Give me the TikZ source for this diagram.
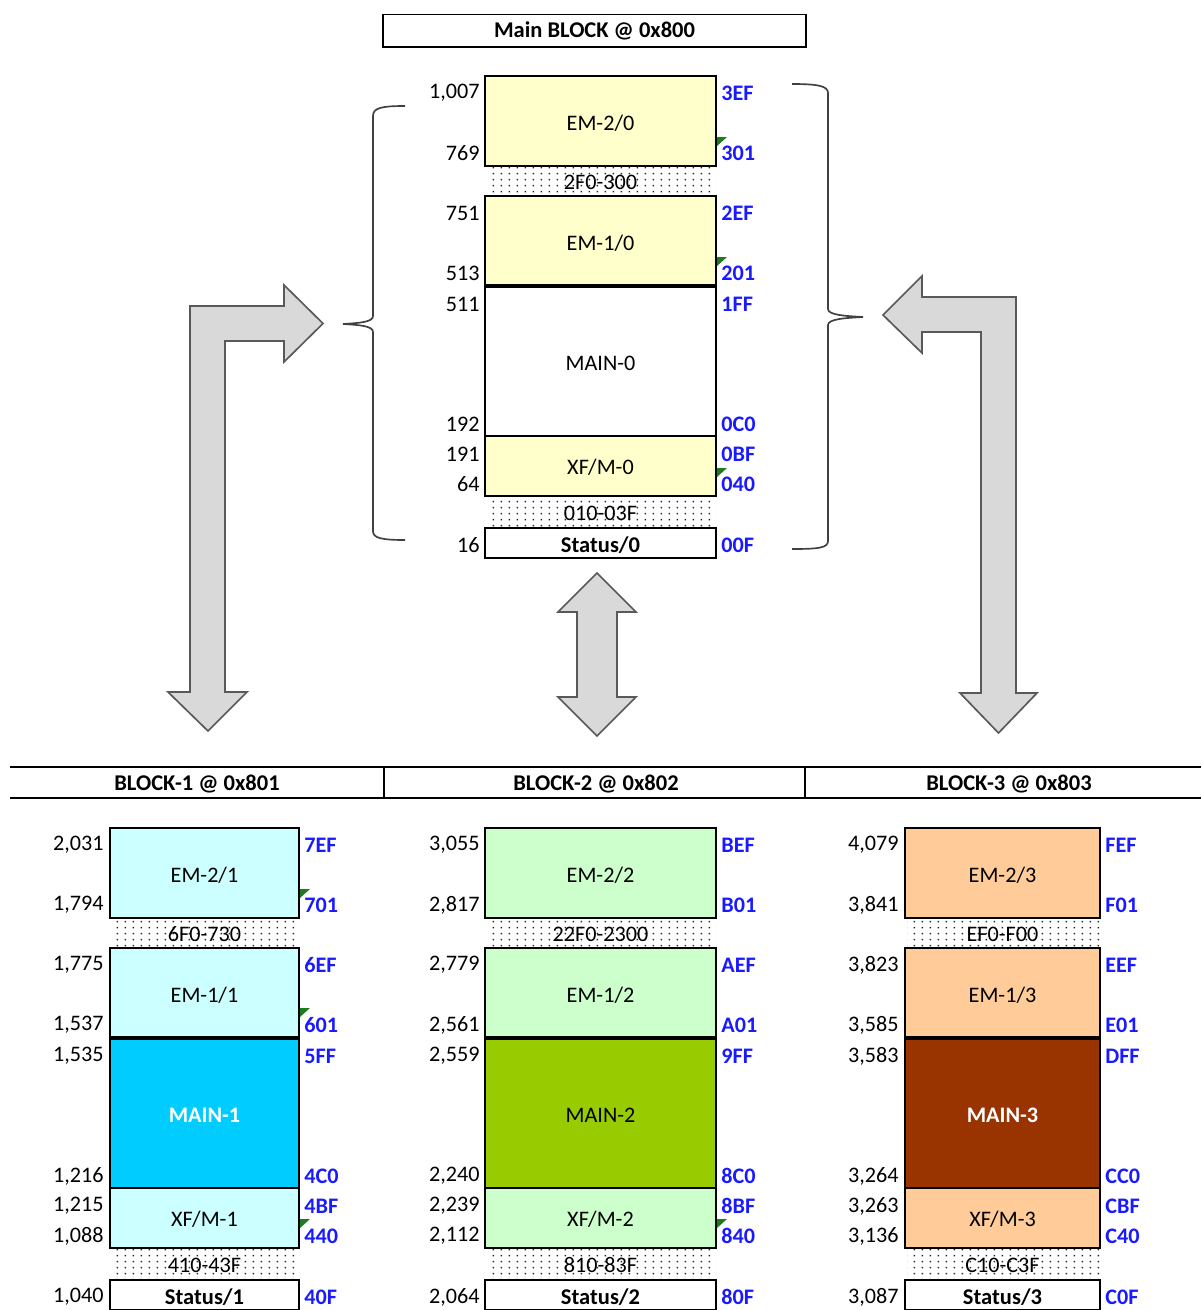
\documentclass[tikz,border=0pt]{standalone}
\usepackage{fontspec}
\setmainfont{Carlito}
\usepackage{tikz}
\usepackage{xcolor}
\usetikzlibrary{patterns}

\definecolor{yelfill}{HTML}{FFFFCC}
\definecolor{cyanlite}{HTML}{CCFFFF}
\definecolor{cyanmain}{HTML}{00CCFF}
\definecolor{greenlite}{HTML}{CCFFCC}
\definecolor{greenmain}{HTML}{99CC00}
\definecolor{orangelite}{HTML}{FFCC99}
\definecolor{brownmain}{HTML}{993300}
\definecolor{hexblue}{HTML}{1A1AFF}
\definecolor{arrowgray}{HTML}{D9D9D9}
\definecolor{arrowline}{HTML}{595959}
\definecolor{flaggreen}{HTML}{1E7B1E}

\pgfdeclarepatternformonly{gapdots}{\pgfpointorigin}{\pgfqpoint{4.6pt}{3.4pt}}{\pgfqpoint{4.6pt}{3.4pt}}
  {\pgfpathrectangle{\pgfqpoint{1pt}{1pt}}{\pgfqpoint{0.95pt}{0.95pt}}\pgfusepath{fill}}

\begin{document}
\begin{tikzpicture}[x=0.6pt,y=-0.6pt,
  every node/.style={font=\fontsize{13.3}{15}\selectfont, inner sep=0pt},
  cell/.style={draw=black, line width=1pt},
  gap/.style={pattern=gapdots, pattern color=black!85},
  num/.style={anchor=east},
  hex/.style={anchor=west, text=hexblue, font=\fontsize{13.3}{15}\selectfont\bfseries},
  bold/.style={font=\fontsize{13.5}{15}\selectfont\bfseries},
  bigarrow/.style={fill=arrowgray, draw=arrowline, line width=1pt, line join=miter},
  brace/.style={draw=black!75, line width=1pt},
  flag/.style={fill=flaggreen}]
  \useasboundingbox (0,0) rectangle (1201,1310);
  \clip (0,0) rectangle (1201,1310);
  \fill[white] (0,0) rectangle (1201,1310);

  \node[draw, line width=1pt, minimum width=253.8pt, minimum height=19.6pt, bold] (maintitle) at (594.5,31) {Main BLOCK @ 0x800};

  \foreach \xl/\xr/\yt/\k/\lite/\mainc/\mtxt/\mfont/\gapa/\gapb in {
      485/716/76/0/yelfill/white/black/\mdseries/2F0-300/010-03F,
      110/299/828/1/cyanlite/cyanmain/white/\bfseries/6F0-730/410-43F,
      485/716/828/2/greenlite/greenmain/black/\mdseries/22F0-2300/810-83F,
      905/1100/828/3/orangelite/brownmain/white/\bfseries/EF0-F00/C10-C3F} {
    \pgfmathsetmacro\xm{(\xl+\xr)/2}
    \fill[gap] (\xl+2,\yt+91) rectangle (\xr,\yt+119);
    \fill[gap] (\xl+2,\yt+421) rectangle (\xr,\yt+451);
    \draw[cell, fill=\lite] (\xl,\yt) rectangle (\xr,\yt+90);
    \draw[cell, fill=\lite] (\xl,\yt+120) rectangle (\xr,\yt+210);
    \draw[cell, fill=\mainc] (\xl,\yt+210) rectangle (\xr,\yt+360);
    \draw[cell, fill=\lite] (\xl,\yt+360) rectangle (\xr,\yt+420);
    \draw[cell, fill=white] (\xl,\yt+452) rectangle (\xr,\yt+482);
    \draw[line width=2pt] (\xl,\yt+210) -- (\xr,\yt+210);
    \node (em2-\k) at (\xm,\yt+47) {EM-2/\k};
    \node (gapa-\k) at (\xm,\yt+106) {\gapa};
    \node (em1-\k) at (\xm,\yt+167) {EM-1/\k};
    \node[text=\mtxt, font=\fontsize{13.3}{15}\selectfont\mfont] (main-\k) at (\xm,\yt+287) {MAIN-\k};
    \node (xfm-\k) at (\xm,\yt+391) {XF/M-\k};
    \node (gapb-\k) at (\xm,\yt+437) {\gapb};
    \node[bold] (status-\k) at (\xm,\yt+469) {Status/\k};
  }

  \foreach \dy/\n/\h in {17/1{,}007/3EF, 77/769/301, 137/751/2EF, 197/513/201, 228/511/1FF,
      348/192/0C0, 378/191/0BF, 408/64/040, 469/16/00F} {
    \node[num] (n0-\dy) at (480,76+\dy) {\n};
    \node[hex] (h0-\dy) at (721,76+\dy) {\h};
  }
  \foreach \dy/\n/\h in {17/2{,}031/7EF, 77/1{,}794/701, 137/1{,}775/6EF, 197/1{,}537/601, 228/1{,}535/5FF,
      348/1{,}216/4C0, 378/1{,}215/4BF, 408/1{,}088/440, 469/1{,}040/40F} {
    \node[num] (n1-\dy) at (104,828+\dy) {\n};
    \node[hex] (h1-\dy) at (304,828+\dy) {\h};
  }
  \foreach \dy/\n/\h in {17/3{,}055/BEF, 77/2{,}817/B01, 137/2{,}779/AEF, 197/2{,}561/A01, 228/2{,}559/9FF,
      348/2{,}240/8C0, 378/2{,}239/8BF, 408/2{,}112/840, 469/2{,}064/80F} {
    \node[num] (n2-\dy) at (480,828+\dy) {\n};
    \node[hex] (h2-\dy) at (721,828+\dy) {\h};
  }
  \foreach \dy/\n/\h in {17/4{,}079/FEF, 77/3{,}841/F01, 137/3{,}823/EEF, 197/3{,}585/E01, 228/3{,}583/DFF,
      348/3{,}264/CC0, 378/3{,}263/CBF, 408/3{,}136/C40, 469/3{,}087/C0F} {
    \node[num] (n3-\dy) at (899,828+\dy) {\n};
    \node[hex] (h3-\dy) at (1105,828+\dy) {\h};
  }

  \foreach \x/\y in {717/137, 717/257, 717/468, 300/889, 300/1008, 300/1219, 717/1219}
    \fill[flag] (\x,\y) -- ++(10,0) -- ++(-10,9) -- cycle;

  \draw[brace] (405,106) .. controls (381,106) and (373,108) .. (373,116) -- (373,316)
     .. controls (373,322) and (360,323) .. (343,324) .. controls (360,325) and (373,326) .. (373,332)
     -- (373,531) .. controls (373,538) and (381,540) .. (405,540);
  \draw[brace] (792,84) .. controls (818,84) and (828,86) .. (828,93) -- (828,309)
     .. controls (828,315) and (845,316) .. (863,317) .. controls (845,318) and (828,319) .. (828,325)
     -- (828,541) .. controls (828,548) and (818,549) .. (792,549);

  \draw[bigarrow] (190,306) -- (284,306) -- (284,285) -- (323,323.5) -- (284,362) -- (284,341)
     -- (225,341) -- (225,692) -- (247,692) -- (208,731) -- (168,692) -- (190,692) -- cycle;
  \draw[bigarrow] (1016,297) -- (922,297) -- (922,276) -- (883,315) -- (922,353) -- (922,332)
     -- (981,332) -- (981,693) -- (960,693) -- (998.5,733) -- (1037,693) -- (1016,693) -- cycle;
  \draw[bigarrow] (597,573) -- (636,612) -- (617,612) -- (617,697) -- (636,697) -- (597,736)
     -- (558,697) -- (577,697) -- (577,612) -- (558,612) -- cycle;

  \draw[line width=1pt] (10,767) -- (1201,767);
  \draw[line width=1pt] (10,798) -- (1201,798);
  \draw[line width=1pt] (384,767) -- (384,798);
  \draw[line width=1pt] (805,767) -- (805,798);
  \node[bold] (blk1) at (197,784) {BLOCK-1 @ 0x801};
  \node[bold] (blk2) at (596,784) {BLOCK-2 @ 0x802};
  \node[bold] (blk3) at (1009,784) {BLOCK-3 @ 0x803};
\end{tikzpicture}
\end{document}
